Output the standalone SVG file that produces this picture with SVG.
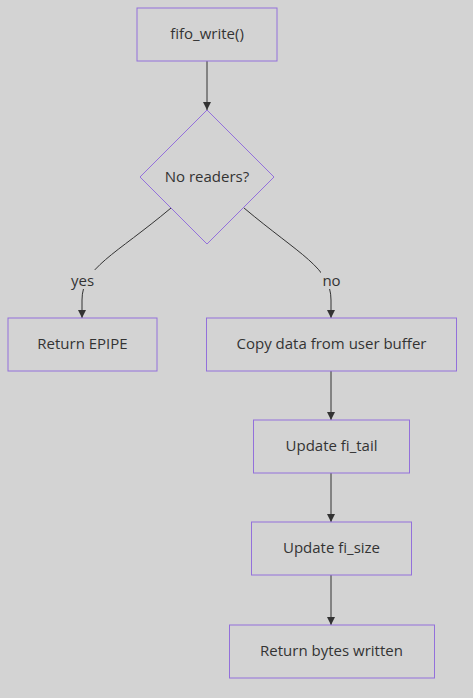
<svg xmlns="http://www.w3.org/2000/svg" width="473" height="698" viewBox="0 0 473 698">
<defs>
<style>
.node rect,.node polygon{fill:#d3d3d3;stroke:#9370DB;stroke-width:1}
text{font-family:"Open Sans","Liberation Sans",sans-serif;font-size:15px;fill:#333;text-anchor:middle;dominant-baseline:central}
.edge{fill:none;stroke:#333;stroke-width:1}
.lbl{fill:#d3d3d3}
</style>
<marker id="arr" viewBox="0 0 10 10" refX="10" refY="5" markerWidth="8" markerHeight="8" markerUnits="userSpaceOnUse" orient="auto">
<path d="M0,0 L10,5 L0,10 z" fill="#333"/>
</marker>
</defs>
<rect width="473" height="698" fill="#d3d3d3"/>
<g id="edges">
<path class="edge" d="M207,61 L207,110" marker-end="url(#arr)"/>
<path class="edge" d="M171,208 C115,255 82,268 82,300 L82,318" marker-end="url(#arr)"/>
<path class="edge" d="M244,208 C300,255 331,268 331,300 L331,318" marker-end="url(#arr)"/>
<path class="edge" d="M331,371 L331,420" marker-end="url(#arr)"/>
<path class="edge" d="M331,473 L331,522" marker-end="url(#arr)"/>
<path class="edge" d="M331,575 L331,625" marker-end="url(#arr)"/>
<rect class="lbl" x="70" y="270" width="25" height="19"/>
<text x="82.5" y="280">yes</text>
<rect class="lbl" x="321" y="270" width="21" height="19"/>
<text x="331.5" y="280">no</text>
</g>
<g id="start" class="node"><rect x="137" y="8" width="140" height="53"/><text x="207" y="33">fifo_write()</text></g>
<g id="check" class="node"><polygon points="207,110 274,177 207,244 140,177"/><text x="207" y="176">No readers?</text></g>
<g id="epipe" class="node"><rect x="8" y="318" width="149" height="53"/><text x="82.5" y="343">Return EPIPE</text></g>
<g id="copy" class="node"><rect x="206.5" y="318" width="250" height="53"/><text x="331.5" y="343">Copy data from user buffer</text></g>
<g id="tail" class="node"><rect x="253.5" y="420" width="156" height="53"/><text x="331.5" y="445">Update fi_tail</text></g>
<g id="size" class="node"><rect x="251.5" y="522" width="160" height="53"/><text x="331.5" y="547">Update fi_size</text></g>
<g id="ret" class="node"><rect x="229.5" y="625" width="205" height="53"/><text x="331.5" y="650">Return bytes written</text></g>
</svg>
